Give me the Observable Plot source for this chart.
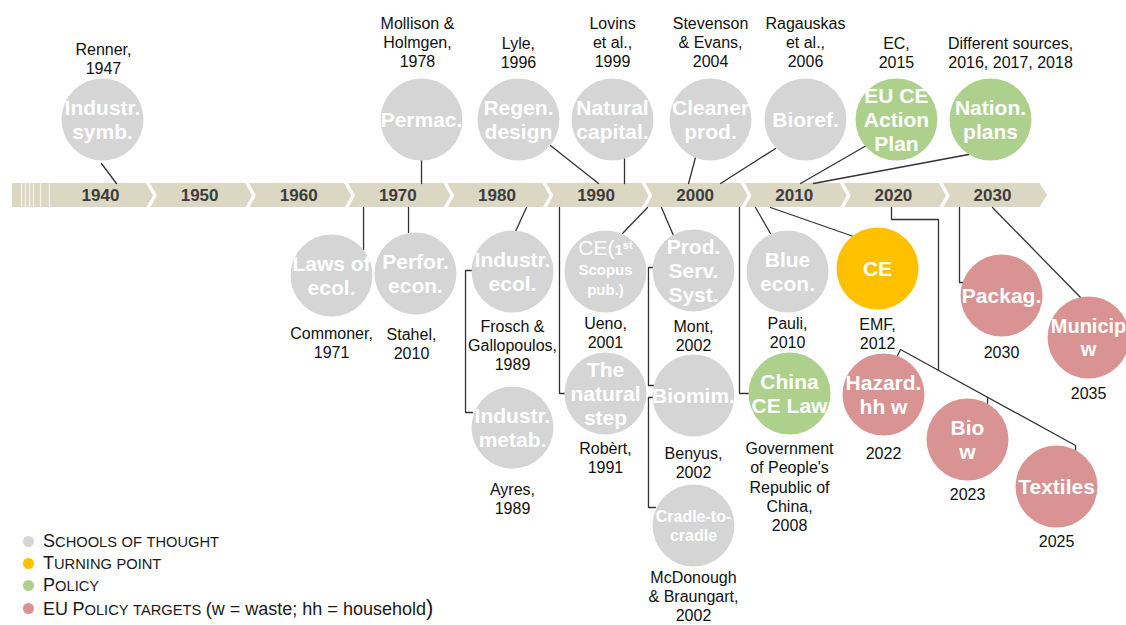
<!DOCTYPE html>
<html>
<head>
<meta charset="utf-8">
<script src="https://cdn.jsdelivr.net/npm/d3@7"></script>
<script src="https://cdn.jsdelivr.net/npm/@observablehq/plot@0.6"></script>
<style>
  body { margin: 0; background: #fff; font-family: "Liberation Sans", Arial, sans-serif; }
  #wrap { position: relative; width: 1126px; height: 625px; overflow: hidden; }
  #legend { position: absolute; left: 23px; top: 530px; color: #1a1a1a; }
  .row { display: flex; align-items: center; height: 22.4px; white-space: nowrap; }
  .dot { width: 11px; height: 11px; border-radius: 50%; margin-right: 9px; flex: none; }
  .big { font-size: 18px; }
  .sm { font-size: 14.7px; }
</style>
</head>
<body>
<div id="wrap"></div>
<script>
// ---------- data ----------
const decades = [1940, 1950, 1960, 1970, 1980, 1990, 2000, 2010, 2020, 2030];
const decadeLabels = decades.map(String);

const nodeLabel = [
  "Industr.\nsymb.", "Permac.", "Regen.\ndesign", "Natural\ncapital.", "Cleaner\nprod.", "Bioref.", "EU CE\nAction\nPlan", "Nation.\nplans",
  "Laws of\necol.", "Perfor.\necon.", "Industr.\necol.", "CE(1st\nScopus\npub.)", "Prod.\nServ.\nSyst.", "Blue\necon.", "CE", "Packag.", "Municip\nw",
  "Industr.\nmetab.", "The\nnatural\nstep", "Biomim.", "China\nCE Law", "Hazard.\nhh w", "Bio\nw", "Textiles", "Cradle-to-\ncradle"
];
const nodeSource = [
  "Renner,\n1947", "Mollison &\nHolmgen,\n1978", "Lyle,\n1996", "Lovins\net al.,\n1999", "Stevenson\n& Evans,\n2004", "Ragauskas\net al.,\n2006", "EC,\n2015", "Different sources,\n2016, 2017, 2018",
  "Commoner,\n1971", "Stahel,\n2010", "Frosch &\nGallopoulos,\n1989", "Ueno,\n2001", "Mont,\n2002", "Pauli,\n2010", "EMF,\n2012", "2030", "2035",
  "Ayres,\n1989", "Robèrt,\n1991", "Benyus,\n2002", "Government\nof People's\nRepublic of\nChina,\n2008", "2022", "2023", "2025", "McDonough\n& Braungart,\n2002"
];
const nodeType = [
  "S", "S", "S", "S", "S", "S", "P", "P",
  "S", "S", "S", "S", "S", "S", "T", "E", "E",
  "S", "S", "S", "P", "E", "E", "E", "S"
];
// position on the timeline (in years) and vertical lane (offset from the timeline band)
const nodeYear = [
  1940.20, 1972.39, 1982.17, 1991.66, 2001.55, 2011.13, 2020.31, 2029.80,
  1963.31, 1971.78, 1981.57, 1990.95, 1999.83, 2009.32, 2018.40, 2030.91, 2039.69,
  1981.57, 1990.95, 1999.83, 2009.52, 2019.00, 2027.48, 2036.46, 1999.83
];
const nodeLane = [
  -76, -76, -76, -76, -76, -76, -76, -76,
  80, 78, 76, 76, 75, 76, 73, 100, 142,
  232, 198, 200, 198, 199, 244, 291, 330
];
const sourceYear = [
  1940.30, 1971.98, 1982.17, 1991.66, 2001.55, 2011.13, 2020.31, 2031.82,
  1963.31, 1971.38, 1981.57, 1990.95, 1999.83, 2009.32, 2018.40, 2030.91, 2039.69,
  1981.57, 1990.95, 1999.83, 2009.52, 2019.00, 2027.48, 2036.46, 1999.83
];
// lane of the first text line of each source label
const sourceLane = [
  -147, -173, -153, -173, -173, -173, -153, -153,
  137, 138, 130, 127, 130, 127, 128, 156, 197,
  293, 252, 257, 252, 257, 298, 345, 381
];

// connector polylines: [year, lane] points
const connectors = [
  [[1940.10, -32], [1941.61, -12]],
  [[1972.39, -35], [1972.39, -12]],
  [[1985.40, -50], [1990.25, -12]],
  [[1992.87, -37], [1992.87, -12]],
  [[2000.03, -38], [1999.33, -12]],
  [[2008.11, -47], [2002.56, -12]],
  [[2017.19, -49.5], [2010.63, -12]],
  [[2027.58, -41], [2011.94, -12]],
  [[1966.54, 12], [1966.54, 54]],
  [[1971.08, 12], [1971.08, 37]],
  [[1982.98, 12], [1981.87, 36]],
  [[1977.53, 75], [1976.83, 75], [1976.83, 217], [1977.53, 217]],
  [[1986.31, 12], [1986.31, 198], [1986.92, 198]],
  [[1995.19, 12], [1992.67, 38]],
  [[1996.60, 12], [1997.81, 40]],
  [[1995.80, 72], [1995.29, 72], [1995.29, 190], [1995.80, 190]],
  [[1995.80, 202], [1995.29, 202], [1995.29, 312], [1996.00, 312]],
  [[2004.47, 12], [2004.47, 198], [2005.38, 198]],
  [[2006.09, 12], [2007.60, 38]],
  [[2007.60, 12], [2015.98, 41]],
  [[2019.81, 12], [2019.81, 24], [2024.55, 24], [2024.55, 175]],
  [[2020.42, 160], [2020.72, 154], [2038.38, 250], [2038.38, 256]],
  [[2029.50, 202], [2029.50, 208]],
  [[2026.67, 12], [2026.67, 87], [2026.97, 87]],
  [[2030.00, 12], [2038.88, 102]]
];

// timeline band
const bandStart = 1931.12, bandEnd = 2034.84, bandTip = 2035.55, bandHalf = 12;
const fadeStripes = [1932.03, 1932.43, 1932.84, 1933.24, 1933.95, 1934.85];
const chevronYears = [1945, 1955, 1965, 1975, 1985, 1995, 2005, 2015, 2025];

const legendTypes = ["S", "T", "P", "E"];
const legendLabels = ["Schools of thought", "Turning point", "Policy", "EU Policy targets (w = waste; hh = household)"];
const typeColors = { S: "#d5d5d5", T: "#ffc000", P: "#add08c", E: "#d99393" };

// ---------- build ----------
const nodes = nodeLabel.map((label, i) => ({
  label, source: nodeSource[i], type: nodeType[i],
  year: nodeYear[i], lane: nodeLane[i], sYear: sourceYear[i], sLane: sourceLane[i]
}));
const LH = 19.4; // px per source line
nodes.forEach(d => { d.sMid = d.sLane + (d.source.split("\n").length - 1) * LH / 2; });

const linkRows = connectors.flatMap((pts, k) => pts.map(([year, lane]) => ({ k, year, lane })));
const chevRows = chevronYears.flatMap(b => [
  { b, year: b - 0.25, lane: -bandHalf - 1 },
  { b, year: b + 0.5, lane: 0 },
  { b, year: b - 0.25, lane: bandHalf + 1 }
]);
const tip = [
  { year: bandEnd - 0.05, lo: -bandHalf, hi: bandHalf },
  { year: bandTip, lo: 0, hi: 0 }
];
const bandColor = "#dbd7c2";

const chart = Plot.plot({
  width: 1126,
  height: 625,
  margin: 0,
  x: { domain: [1940, 2030], range: [100, 992], axis: null },
  y: { domain: [-195, 430], range: [0, 625], axis: null },
  style: { fontFamily: "'Liberation Sans', Arial, sans-serif", background: "#fff", overflow: "visible" },
  marks: [
    Plot.rect([{ x1: bandStart, x2: bandEnd, y1: -bandHalf, y2: bandHalf }], { x1: "x1", x2: "x2", y1: "y1", y2: "y2", fill: bandColor }),
    Plot.areaY(tip, { x: "year", y1: "lo", y2: "hi", fill: bandColor }),
    Plot.ruleX(fadeStripes, { x: d => d, y1: -bandHalf, y2: bandHalf, stroke: "#f4f2ea", strokeWidth: 1.2 }),
    Plot.line(chevRows, { x: "year", y: "lane", z: "b", stroke: "white", strokeWidth: 3.5, strokeLinejoin: "miter" }),
    Plot.text(decades, { x: d => d, y: () => 0, text: (d, i) => decadeLabels[i], fontSize: 17, fontWeight: "bold", fill: "#3d3d3d" }),
    Plot.line(linkRows, { x: "year", y: "lane", z: "k", stroke: "#333", strokeWidth: 1.3, curve: "linear" }),
    Plot.dot(nodes, { x: "year", y: "lane", r: 41, fill: d => typeColors[d.type], stroke: "none" }),
    Plot.text(nodes, {
      x: "year", y: "lane", text: "label", fill: "white", fontWeight: "bold",
      fontSize: d => d.label.startsWith("Cradle") ? 16 : d.label.startsWith("Municip") ? 20 : 21, lineHeight: 1.15
    }),
    Plot.text(nodes, {
      x: "sYear", y: "sMid", text: "source", fill: "#111", fontSize: 16, lineHeight: LH / 16, lineAnchor: "middle"
    })
  ]
});

document.getElementById("wrap").appendChild(chart);

// superscript & smaller lines for "CE(1st Scopus pub.)"
chart.querySelectorAll("tspan").forEach(t => {
  if (t.textContent === "CE(1st") {
    const ns = "http://www.w3.org/2000/svg";
    t.textContent = "";
    const a = document.createElementNS(ns, "tspan");
    a.textContent = "CE(";
    a.setAttribute("font-weight", "normal");
    const one = document.createElementNS(ns, "tspan");
    one.textContent = "1";
    one.setAttribute("font-size", "15");
    const st = document.createElementNS(ns, "tspan");
    st.textContent = "st";
    st.setAttribute("font-size", "11");
    st.setAttribute("baseline-shift", "super");
    t.appendChild(a);
    t.appendChild(one);
    t.appendChild(st);
    let s = t.nextElementSibling;
    while (s) {
      s.setAttribute("font-size", "15");
      s.setAttribute("dy", "20");
      s = s.nextElementSibling;
    }
  }
});

// legend
const legend = document.createElement("div");
legend.id = "legend";
function smallCaps(str) {
  return [...str].map(ch => {
    if (ch === " ") return " ";
    if (ch >= "A" && ch <= "Z") return `<span class="big">${ch}</span>`;
    return `<span class="sm">${ch.toUpperCase()}</span>`;
  }).join("");
}
legendTypes.forEach((t, i) => {
  const label = legendLabels[i];
  const p = label.indexOf("(");
  const head = p >= 0 ? label.slice(0, p) : label;
  const tail = p >= 0 ? label.slice(p) : "";
  const row = document.createElement("div");
  row.className = "row";
  row.innerHTML = `<span class="dot" style="background:${typeColors[t]}"></span><span>${smallCaps(head)}${tail ? `<span class="big">${tail.replace(")", '<span style="font-size:22px">)</span>')}</span>` : ""}</span>`;
  legend.appendChild(row);
});
document.getElementById("wrap").appendChild(legend);
</script>
</body>
</html>
